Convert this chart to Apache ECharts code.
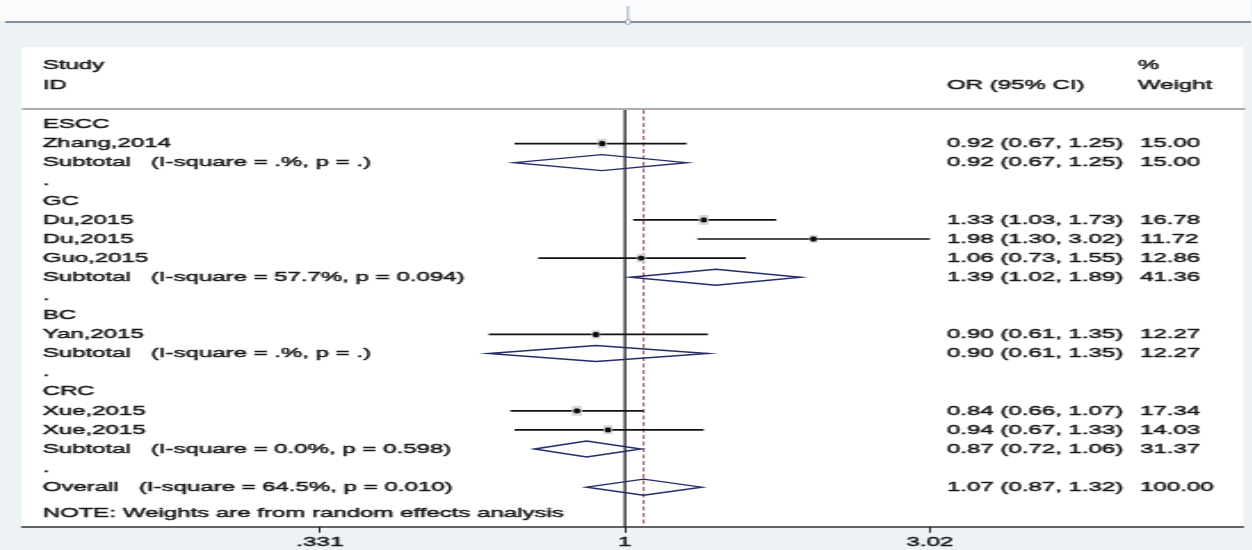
<!DOCTYPE html>
<html>
<head>
<meta charset="utf-8">
<script src="https://cdn.jsdelivr.net/npm/echarts@6/dist/echarts.min.js"></script>
<style>
  html, body { margin: 0; padding: 0; background: #edf2f5; overflow: hidden; }
  #chart { position: absolute; left: 0; top: 0; height: 550px; transform-origin: 0 0; }
</style>
</head>
<body>
<div id="chart"></div>
<script>
// ---- data -----------------------------------------------------------------
const groupNames = ['ESCC', 'GC', 'BC', 'CRC'];
const groupRows = [0, 4, 10, 14];

const studyNames = ['Zhang,2014', 'Du,2015', 'Du,2015', 'Guo,2015', 'Yan,2015', 'Xue,2015', 'Xue,2015'];
const studyRows = [1, 5, 6, 7, 11, 15, 16];
const studyOR = [0.92, 1.33, 1.98, 1.06, 0.90, 0.84, 0.94];
const studyLo = [0.67, 1.03, 1.30, 0.73, 0.61, 0.66, 0.67];
const studyHi = [1.25, 1.73, 3.02, 1.55, 1.35, 1.07, 1.33];
const studyWeight = [15.00, 16.78, 11.72, 12.86, 12.27, 17.34, 14.03];

const pooledNames = ['Subtotal', 'Subtotal', 'Subtotal', 'Subtotal', 'Overall'];
const pooledHet = [
  '(I-square = .%, p = .)',
  '(I-square = 57.7%, p = 0.094)',
  '(I-square = .%, p = .)',
  '(I-square = 0.0%, p = 0.598)',
  '(I-square = 64.5%, p = 0.010)'
];
const pooledRows = [2, 8, 12, 17, 19];
const pooledOR = [0.92, 1.39, 0.90, 0.87, 1.07];
const pooledLo = [0.67, 1.02, 0.61, 0.72, 0.87];
const pooledHi = [1.25, 1.89, 1.35, 1.06, 1.32];
const pooledWeight = [15.00, 41.36, 12.27, 31.37, 100.00];

const spacerRows = [3, 9, 13, 18];
const overallOR = 1.07;

const tickValues = [0.331, 1, 3.02];
const tickLabels = ['.331', '1', '3.02'];

const headerLeft = ['Study', 'ID'];
const headerOR = 'OR (95% CI)';
const headerWeight = ['%', 'Weight'];
const noteText = 'NOTE: Weights are from random effects analysis';

// ---- layout ---------------------------------------------------------------
// The figure is drawn narrow and stretched sideways by CSS (scaleX below).
const SX = 1.78;
const FULL_W = 1252, FULL_H = 550;
const W = FULL_W / SX;

const X_ONE = 625;          // screen x of OR = 1
const PX_PER_LN = 275.9;    // screen px per unit of ln(OR)
const PANEL_L = 22, PANEL_R = 1243, PANEL_T = 47, PANEL_B = 527;
const ROW0_Y = 124.5, ROW_STEP = 19.1;
const SEP_Y = 109;

const lnAt = px => (px - X_ONE) / PX_PER_LN;
const rowAt = py => (py - ROW0_Y) / ROW_STEP;

const xMin = lnAt(PANEL_L), xMax = lnAt(PANEL_R);
const yMin = rowAt(PANEL_T), yMax = rowAt(PANEL_B);

const LABEL_X = lnAt(42.5);
const OR_X = lnAt(947);
const WT_X = lnAt(1140);
const WT_HEAD_X = lnAt(1138);

const FONT_SIZE = 13.5;
const FONT = FONT_SIZE + 'px "Liberation Sans", Arial, sans-serif';
const TEXT_COLOR = '#161616';

const el = document.getElementById('chart');
el.style.width = W + 'px';
el.style.transform = 'scaleX(' + SX + ')';

const fmt = v => v.toFixed(2);
const ciText = (o, l, h) => fmt(o) + ' (' + fmt(l) + ', ' + fmt(h) + ')';
const gap = '\u00a0\u00a0\u00a0';

// ---- text column content --------------------------------------------------
const txtX = [], txtY = [], txtS = [];
function addText(x, y, s) { txtX.push(x); txtY.push(y); txtS.push(s); }
groupNames.forEach((g, i) => addText(LABEL_X, groupRows[i], g));
spacerRows.forEach(r => addText(LABEL_X, r, '.'));
studyNames.forEach((n, i) => {
  addText(LABEL_X, studyRows[i], n);
  addText(OR_X, studyRows[i], ciText(studyOR[i], studyLo[i], studyHi[i]));
  addText(WT_X, studyRows[i], fmt(studyWeight[i]));
});
pooledNames.forEach((n, i) => {
  addText(LABEL_X, pooledRows[i], n + gap + pooledHet[i]);
  addText(OR_X, pooledRows[i], ciText(pooledOR[i], pooledLo[i], pooledHi[i]));
  addText(WT_X, pooledRows[i], fmt(pooledWeight[i]));
});
addText(LABEL_X, rowAt(513.5), noteText);
addText(LABEL_X, rowAt(65), headerLeft[0]);
addText(LABEL_X, rowAt(85.5), headerLeft[1]);
addText(OR_X, rowAt(85.5), headerOR);
addText(WT_HEAD_X, rowAt(65), headerWeight[0]);
addText(WT_HEAD_X, rowAt(85.5), headerWeight[1]);

const textStyle = (s) => ({
  text: s, font: FONT, fill: TEXT_COLOR,
  stroke: TEXT_COLOR, lineWidth: 0.45,
  textAlign: 'left', textVerticalAlign: 'middle',
  align: 'left', verticalAlign: 'middle'
});

const chart = echarts.init(el, null, { renderer: 'canvas', width: W, height: FULL_H });

const lnTicks = tickValues.map(Math.log);
const sepRow = rowAt(SEP_Y + 1);

chart.setOption({
  animation: false,
  backgroundColor: '#edf2f5',
  grid: {
    left: PANEL_L / SX, right: W - PANEL_R / SX, top: PANEL_T, bottom: FULL_H - PANEL_B,
    show: true, backgroundColor: '#ffffff', borderWidth: 0
  },
  xAxis: {
    type: 'value', min: xMin, max: xMax,
    axisLine: { onZero: false, lineStyle: { color: '#333333', width: 1.5 } },
    axisTick: { customValues: lnTicks, length: 6, lineStyle: { color: '#222222', width: 1 } },
    axisLabel: {
      customValues: lnTicks, margin: 9,
      fontFamily: '"Liberation Sans", Arial, sans-serif', fontSize: FONT_SIZE, color: TEXT_COLOR,
      textBorderColor: TEXT_COLOR, textBorderWidth: 0.45,
      formatter: v => {
        const i = lnTicks.findIndex(t => Math.abs(t - v) < 1e-6);
        return i >= 0 ? tickLabels[i] : '';
      }
    },
    splitLine: { show: false }
  },
  yAxis: { type: 'value', inverse: true, min: yMin, max: yMax, show: false, axisLine: { onZero: false } },
  graphic: [
    { type: 'rect', shape: { x: 0, y: 0, width: W, height: 21 }, style: { fill: '#fbfcfd' }, silent: true },
    { type: 'line', shape: { x1: 5 / SX, y1: 22, x2: W, y2: 22 }, style: { stroke: '#8190a8', lineWidth: 2 }, silent: true },
    { type: 'line', shape: { x1: 628 / SX, y1: 6, x2: 628 / SX, y2: 19.5 }, style: { stroke: '#8a96ad', lineWidth: 0.8 }, silent: true },
    { type: 'circle', x: 628 / SX, y: 22, scaleX: 1 / SX, shape: { cx: 0, cy: 0, r: 2.6 }, style: { fill: '#ffffff', stroke: '#8190a8', lineWidth: 1 }, silent: true },
    { type: 'line', shape: { x1: PANEL_L / SX, y1: SEP_Y, x2: 1245 / SX, y2: SEP_Y }, style: { stroke: '#acacac', lineWidth: 2 }, silent: true }
  ],
  series: [
    {
      // line of no effect, OR = 1
      type: 'line', silent: true, symbol: 'none', z: 2,
      data: [[0, sepRow], [0, yMax]],
      lineStyle: { color: '#0a0a0a', width: 1.2 }
    },
    {
      // pooled overall estimate
      type: 'line', silent: true, symbol: 'none', z: 2,
      data: [[Math.log(overallOR), sepRow], [Math.log(overallOR), yMax]],
      lineStyle: { color: '#9c3a3a', width: 0.85, type: [4, 2.5] }
    },
    {
      // study confidence intervals
      type: 'custom', silent: true, z: 3,
      data: studyRows.map((r, i) => [Math.log(studyLo[i]), Math.log(studyHi[i]), r]),
      renderItem: (params, api) => {
        const a = api.coord([api.value(0), api.value(2)]);
        const b = api.coord([api.value(1), api.value(2)]);
        return { type: 'line', shape: { x1: a[0], y1: a[1], x2: b[0], y2: b[1] }, style: { stroke: '#111111', lineWidth: 1.7 } };
      }
    },
    {
      // weight boxes and point estimates
      type: 'custom', silent: true, z: 4,
      data: studyRows.map((r, i) => [Math.log(studyOR[i]), r, studyWeight[i]]),
      renderItem: (params, api) => {
        const c = api.coord([api.value(0), api.value(1)]);
        const s = 2.4 * Math.sqrt(api.value(2));
        return {
          type: 'group', children: [
            { type: 'rect', shape: { x: c[0] - s / SX / 2, y: c[1] - s / 2, width: s / SX, height: s }, style: { fill: '#d6d6d6' } },
            { type: 'circle', x: c[0], y: c[1], scaleX: 1.3 / SX, shape: { cx: 0, cy: 0, r: 2.7 }, style: { fill: '#0a0a0a' } }
          ]
        };
      }
    },
    {
      // pooled diamonds
      type: 'custom', silent: true, z: 5,
      data: pooledRows.map((r, i) => [Math.log(pooledLo[i]), Math.log(pooledOR[i]), Math.log(pooledHi[i]), r]),
      renderItem: (params, api) => {
        const y = api.value(3);
        const l = api.coord([api.value(0), y]);
        const m = api.coord([api.value(1), y]);
        const h = api.coord([api.value(2), y]);
        const hh = 8;
        return {
          type: 'polygon',
          shape: { points: [[l[0], l[1]], [m[0], m[1] - hh], [h[0], h[1]], [m[0], m[1] + hh]] },
          style: { fill: 'none', stroke: '#262b6a', lineWidth: 1.4 }
        };
      }
    },
    {
      // text columns
      type: 'custom', silent: true, z: 6,
      data: txtX.map((x, i) => [x, txtY[i]]),
      renderItem: (params, api) => {
        const c = api.coord([api.value(0), api.value(1)]);
        return { type: 'text', x: c[0], y: c[1], style: textStyle(txtS[params.dataIndex]) };
      }
    }
  ]
});
</script>
</body>
</html>
